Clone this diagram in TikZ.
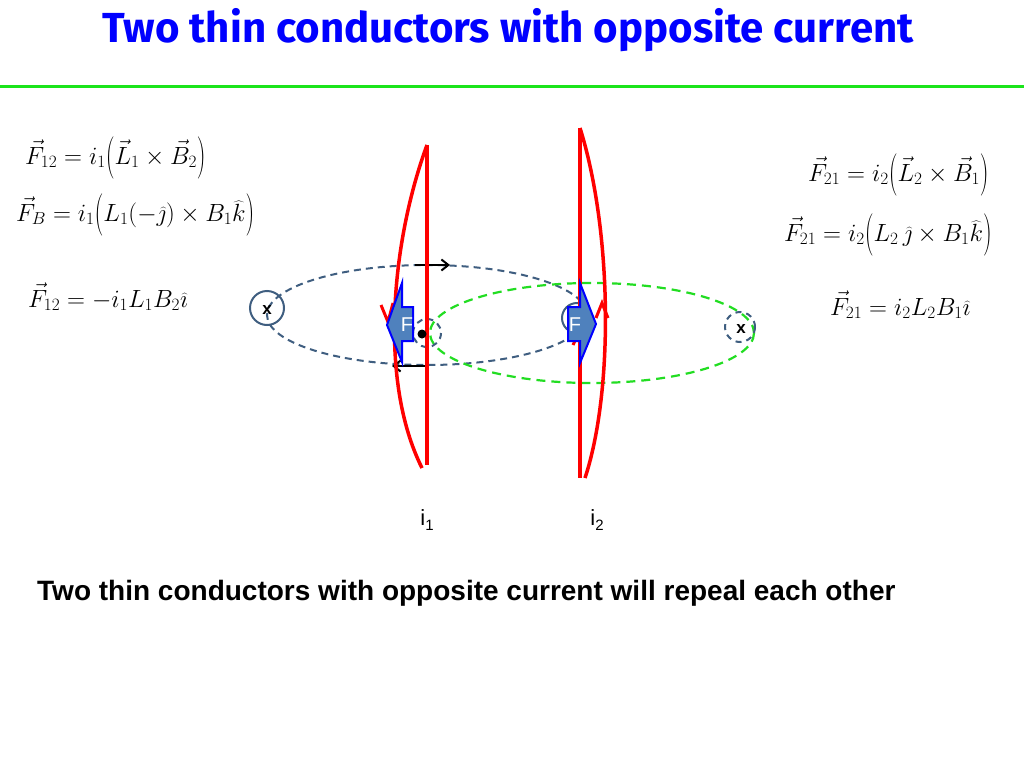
\documentclass[tikz,border=0pt]{standalone}
\usepackage{fontspec}
\setmainfont{Liberation Serif}
\newfontfamily\arialf{Liberation Sans}
\newfontfamily\titlef{Fira Sans}
\usetikzlibrary{arrows.meta}
\definecolor{dblue}{HTML}{3F5E80}
\definecolor{lgreen}{HTML}{22DD22}
\definecolor{fblue}{HTML}{4F81BD}
\tikzset{
 wire/.style={red, line width=3.5pt},
 loopa/.style={dblue, dashed, line width=2pt, dash pattern=on 7pt off 5pt},
 loopb/.style={lgreen, dashed, line width=2.2pt, dash pattern=on 9pt off 6pt},
 eq/.style={anchor=west, font=\fontsize{26}{30}\selectfont, inner sep=0pt},
 farrow/.style={fill=fblue, draw=blue, line width=2pt},
 blk/.style={black, line width=2pt, -{Straight Barb[length=7pt,width=11pt]}},
}
\newcommand{\sub}[1]{\raisebox{-5pt}{\fontsize{15}{15}\selectfont #1}}
\newcommand{\lp}{\mathopen{\vcenter{\hbox{\scalebox{1}[1.7]{$($}}}}}
\newcommand{\rp}{\mathclose{\vcenter{\hbox{\scalebox{1}[1.7]{$)$}}}}}
\begin{document}
\begin{tikzpicture}[x=1pt,y=-1pt]
\useasboundingbox (0,0) rectangle (1024,768);
\fill[white] (0,0) rectangle (1024,768);
\node[font=\titlef\bfseries\fontsize{42}{46}\selectfont, text=blue] (title) at (508,30) {Two thin conductors with opposite current};
\draw[lgreen!80!green, line width=3pt] (0,86) -- (1024,86);
% equations
\node[eq] (e1) at (25,158) {$\vec F_{12}=i_1\lp\vec L_1\times\vec B_2\rp$};
\node[eq] (e2) at (16,215) {$\vec F_{B}=i_1\lp L_1(-\widehat{\jmath})\times B_1\widehat{k}\rp$};
\node[eq] (e3) at (28,297) {$\vec F_{12}=-i_1L_1B_2\widehat{\imath}$};
\node[eq] (e4) at (808,175) {$\vec F_{21}=i_2\lp\vec L_2\times\vec B_1\rp$};
\node[eq] (e5) at (784,235) {$\vec F_{21}=i_2\lp L_2\,\widehat{\jmath}\times B_1\widehat{k}\rp$};
\node[eq] (e6) at (830,305) {$\vec F_{21}=i_2L_2B_1\widehat{\imath}$};
% loops
\draw[loopa] (427,315) ellipse [x radius=160, y radius=50];
\draw[loopb] (592,333) ellipse [x radius=162, y radius=50];
\draw[dblue, line width=2pt] (267,308) circle (17);
\node[font=\arialf\bfseries\fontsize{17}{17}\selectfont] (x1) at (267,310) {x};
\draw[dblue, line width=2pt] (577,318) circle (15);
\draw[dblue, line width=2pt, dashed, dash pattern=on 6pt off 5pt] (740,327) circle (15);
\node[font=\arialf\bfseries\fontsize{17}{17}\selectfont] (x2) at (741,329) {x};
\draw[dblue, line width=2pt, dashed, dash pattern=on 6pt off 5pt] (427,333) circle (14);
% black arrows
\coordinate (ta) at (415,265); \coordinate (tb) at (450,265);
\coordinate (ba) at (427,366); \coordinate (bb) at (392,366);
\draw[blk] (ta) -- (tb);
\draw[blk] (ba) -- (bb);
% wires
\draw[wire] (427,145) -- (427,465);
\draw[wire] (427,145) .. controls (392,240) and (378,380) .. (422,468);
\draw[wire] (580,128) -- (580,478);
\draw[wire] (580,128) .. controls (612,230) and (614,390) .. (585,478);
\draw[red, line width=3pt] (381,305) -- (388,322) -- (393,303);
\draw[red, line width=3pt] (596,318) -- (602,303) -- (608,318);
\draw[red, line width=3pt] (573,345) -- (580,330) -- (587,345);
\fill[black] (422,334) circle (4.5);
% F arrows
\draw[farrow] (413,307) -- (402,307) -- (402,283) -- (387,325) -- (402,362) -- (402,341) -- (413,341) -- cycle;
\node[text=white, font=\arialf\fontsize{20}{20}\selectfont] (fl) at (407,325) {F};
\draw[farrow] (568,307) -- (580,307) -- (580,283) -- (596,324) -- (580,363) -- (580,341) -- (568,341) -- cycle;
\node[text=white, font=\arialf\fontsize{20}{20}\selectfont] (fr) at (575,325) {F};
% labels
\node[font=\arialf\fontsize{22}{22}\selectfont] (i1) at (427,520) {i\sub{1}};
\node[font=\arialf\fontsize{22}{22}\selectfont] (i2) at (597,520) {i\sub{2}};
\node[anchor=west, inner sep=0pt, font=\arialf\bfseries\fontsize{28}{32}\selectfont] (bt) at (37,593) {Two thin conductors with opposite current will repeal each other};
\end{tikzpicture}
\end{document}
